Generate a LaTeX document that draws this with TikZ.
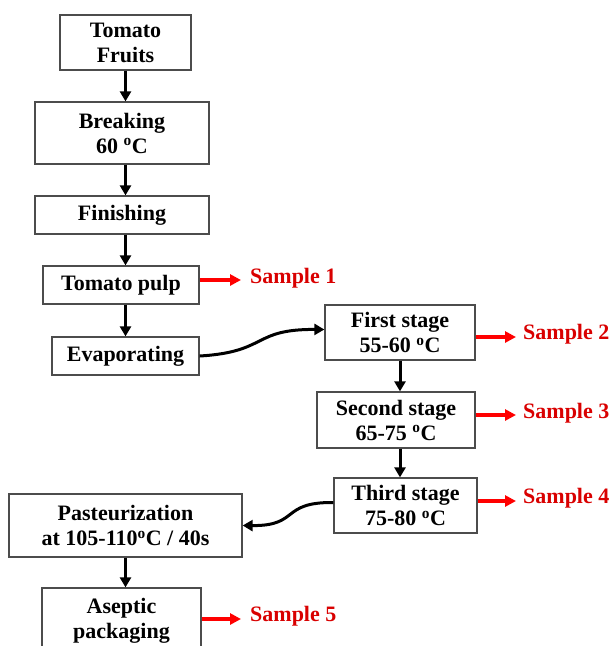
\documentclass[tikz,border=0pt]{standalone}
\usepackage{fontspec}
\setmainfont{Liberation Serif}
\usetikzlibrary{arrows.meta}
\begin{document}
\begin{tikzpicture}[x=1pt,y=-1pt,
  box/.style={draw=black!70, line width=1.3pt, fill=white, inner sep=0pt, align=center,
    font=\bfseries\fontsize{22}{25}\selectfont},
  flow/.style={line width=3pt, -{Triangle[length=10pt,width=11pt]}},
  samp/.style={line width=3.2pt, red, -{Triangle[length=11pt,width=11pt]}},
  stxt/.style={anchor=west, inner sep=0pt, text=red!85!black,
    font=\bfseries\fontsize{22}{25}\selectfont}]
\useasboundingbox (0,0) rectangle (612,646);
% boxes
\node[box, minimum width=131pt, minimum height=55pt] (fruits) at (125.5,42.5) {Tomato\\Fruits};
\node[box, minimum width=174pt, minimum height=62pt] (breaking) at (122,133) {Breaking\\60 \textsuperscript{o}C};
\node[box, minimum width=174pt, minimum height=38pt] (finishing) at (122,215) {Finishing};
\node[box, minimum width=156pt, minimum height=38pt] (pulp) at (121,285) {Tomato pulp};
\node[box, minimum width=147pt, minimum height=38pt] (evap) at (125.5,356) {Evaporating};
\node[box, minimum width=150pt, minimum height=55pt] (first) at (400,332.5) {First stage\\55-60 \textsuperscript{o}C};
\node[box, minimum width=158pt, minimum height=56pt] (second) at (396,420) {Second stage\\65-75 \textsuperscript{o}C};
\node[box, minimum width=143pt, minimum height=55pt] (third) at (405.5,505.5) {Third stage\\75-80 \textsuperscript{o}C};
\node[box, minimum width=233pt, minimum height=63pt] (past) at (125.5,525.5) {Pasteurization\\at 105-110\textsuperscript{o}C / 40s};
\node[box, minimum width=159pt, minimum height=66pt] (aseptic) at (121.5,621) {Aseptic\\packaging};
% sample labels
\node[stxt] (s1) at (250,278) {Sample 1};
\node[stxt] (s2) at (523,334) {Sample 2};
\node[stxt] (s3) at (523,413) {Sample 3};
\node[stxt] (s4) at (523,498) {Sample 4};
\node[stxt] (s5) at (250,616) {Sample 5};
\coordinate (a1) at (241,280);
\coordinate (a2) at (516,337);
\coordinate (a3) at (516,415);
\coordinate (a4) at (516,501);
\coordinate (a5) at (241,619);
% black flow arrows
\draw[flow] (fruits.south) -- (fruits.south |- breaking.north);
\draw[flow] (breaking.south -| fruits.south) -- (finishing.north -| fruits.south);
\draw[flow] (finishing.south -| fruits.south) -- (pulp.north -| fruits.south);
\draw[flow] (pulp.south -| fruits.south) -- (evap.north -| fruits.south);
\draw[flow] (evap.east) .. controls (268,352) and (252,329) .. ([yshift=3pt]first.west);
\draw[flow] (first.south) -- (second.north -| first.south);
\draw[flow] (second.south -| first.south) -- (third.north -| first.south);
\draw[flow] ([yshift=3pt]third.west) .. controls (280,502) and (300,526) .. (past.east);
\draw[flow] (past.south) -- (aseptic.north -| past.south);
% red sample arrows
\draw[samp] (pulp.east |- a1) -- (a1);
\draw[samp] (first.east |- a2) -- (a2);
\draw[samp] (second.east |- a3) -- (a3);
\draw[samp] (third.east |- a4) -- (a4);
\draw[samp] (aseptic.east |- a5) -- (a5);
\end{tikzpicture}
\end{document}
